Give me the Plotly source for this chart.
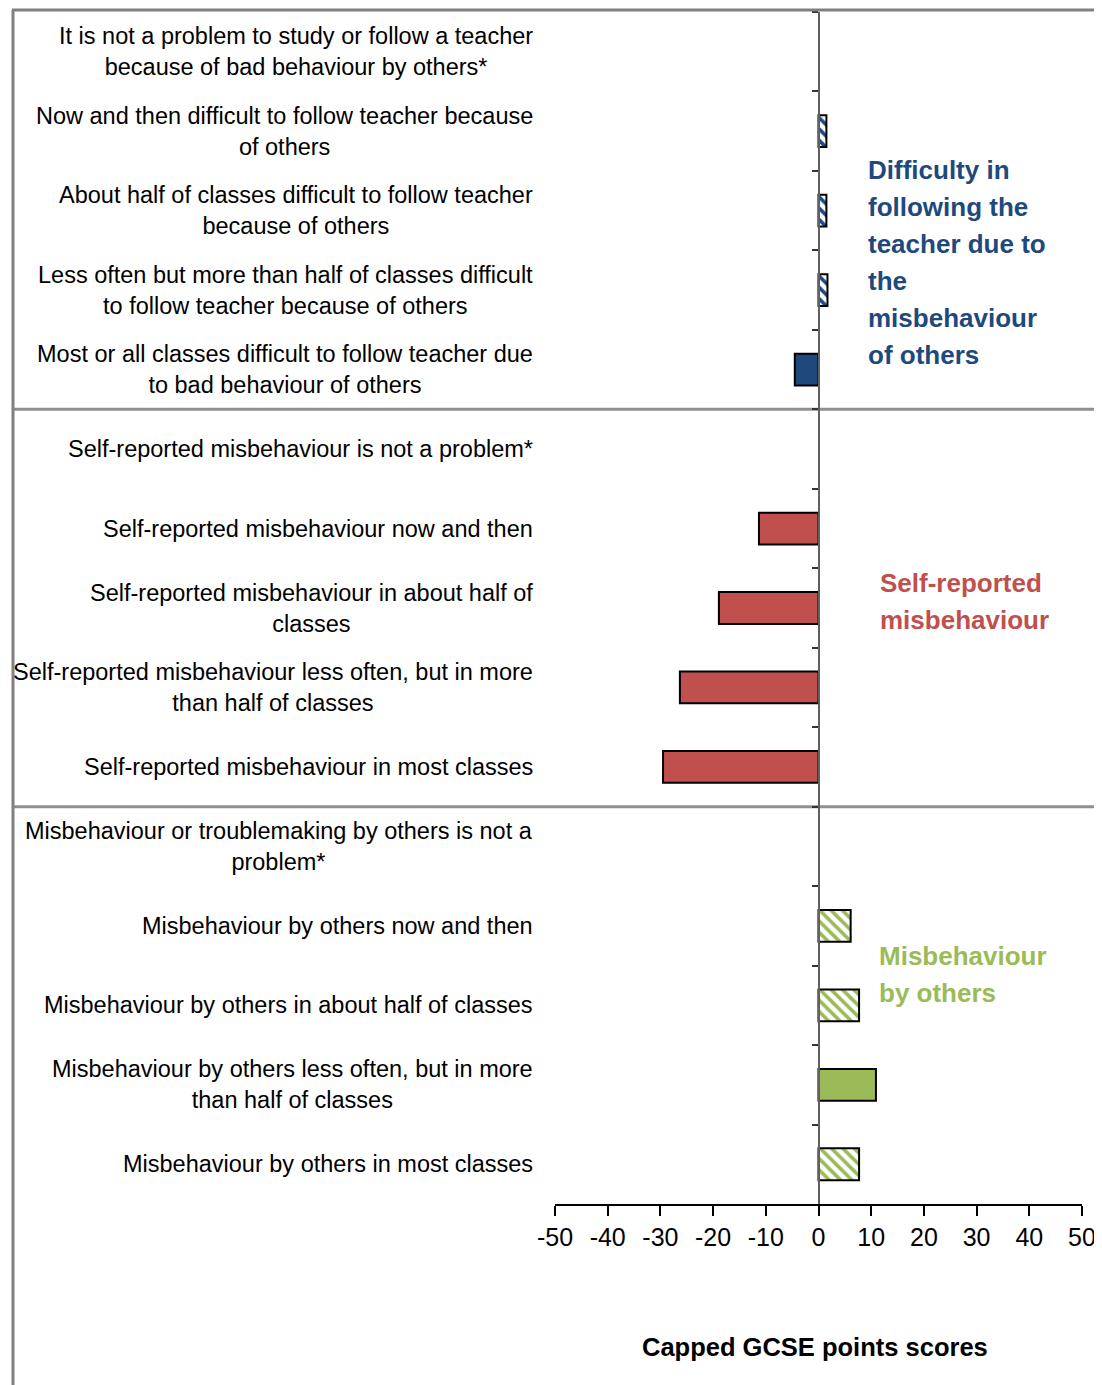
import plotly.graph_objects as go

# ---- data ----
categories = [
    "It is not a problem to study or follow a teacher<br>because of bad behaviour by others*",
    "Now and then difficult to follow teacher because<br>of others",
    "About half of classes difficult to follow teacher<br>because of others",
    "Less often but more than half of classes difficult<br>to follow teacher because of others",
    "Most or all classes difficult to follow teacher due<br>to bad behaviour of others",
    "Self-reported misbehaviour is not a problem*",
    "Self-reported misbehaviour now and then",
    "Self-reported misbehaviour in about half of<br>classes",
    "Self-reported misbehaviour less often, but in more<br>than half of classes",
    "Self-reported misbehaviour in most classes",
    "Misbehaviour or troublemaking by others is not a<br>problem*",
    "Misbehaviour by others now and then",
    "Misbehaviour by others in about half of classes",
    "Misbehaviour by others less often, but in more<br>than half of classes",
    "Misbehaviour by others in most classes",
]
values = [None, 1.5, 1.5, 1.7, -4.5,
          None, -11.3, -18.9, -26.3, -29.5,
          None, 6.1, 7.7, 10.9, 7.7]
group = ["diff"] * 5 + ["self"] * 5 + ["others"] * 5
significant = [False, False, False, False, True,
               False, True, True, True, True,
               False, False, False, True, False]

group_names = ["diff", "self", "others"]
group_lines = {
    "diff": ["Difficulty in", "following the", "teacher due to", "the",
             "misbehaviour", "of others"],
    "self": ["Self-reported", "misbehaviour"],
    "others": ["Misbehaviour", "by others"],
}
x_ticks = [-50, -40, -30, -20, -10, 0, 10, 20, 30, 40, 50]
x_title = "Capped GCSE points scores"

# ---- styles ----
colors = {"diff": "#1F497D", "self": "#C0504D", "others": "#9BBB59"}
FONT = "Liberation Sans, Arial, sans-serif"

W, H = 1102, 1385
OFF = 8  # page body margin offset
L, T = 555 - OFF, 12 - OFF
pw, ph = 527, 1192
R, B = W - L - pw, H - T - ph

fig = go.Figure()
for g in group_names:
    for sig in (True, False):
        xs = [v if (gg == g and s == sig) else None
              for v, gg, s in zip(values, group, significant)]
        if all(x is None for x in xs):
            continue
        if sig:
            marker = dict(color=colors[g], line=dict(color="black", width=2))
        else:
            marker = dict(color="white", line=dict(color="black", width=2),
                          pattern=dict(shape="\\", fgcolor=colors[g], bgcolor="white",
                                       size=8, solidity=0.45, fillmode="replace"))
        fig.add_trace(go.Bar(y=categories, x=xs, orientation="h", width=0.4,
                             marker=marker, showlegend=False, hoverinfo="skip"))

fig.update_layout(
    width=W, height=H, margin=dict(l=L, r=R, t=T, b=B),
    paper_bgcolor="white", plot_bgcolor="white", barmode="overlay",
    font=dict(family=FONT, color="black"),
    xaxis=dict(range=[-50, 50], tickvals=x_ticks, ticktext=[str(v) for v in x_ticks],
               showgrid=False, zeroline=False, showline=True, linecolor="black",
               linewidth=2, ticks="outside", ticklen=10, tickwidth=2, tickcolor="black",
               tickfont=dict(size=25, family=FONT, color="black"), automargin=False),
    yaxis=dict(type="category", autorange="reversed", categoryorder="array",
               categoryarray=categories, showticklabels=False, showgrid=False,
               anchor="free", position=0.5, showline=True, linecolor="#606060",
               linewidth=1.5, ticks="outside", tickson="boundaries", ticklen=6,
               tickcolor="#333333", tickwidth=1.5, automargin=False),
)


def px_x(p):
    return (p - OFF - L) / pw


def px_y(p):
    return 1 - (p - OFF - T) / ph


# category labels (centred blocks, right-anchored)
for c in categories:
    fig.add_annotation(x=0, xref="paper", xanchor="right", xshift=-20, y=c, yref="y",
                       text=c, showarrow=False, align="center",
                       font=dict(size=23.5, family=FONT, color="black"))

# group labels, one line per annotation for Excel-like line spacing
group_pos = {"diff": (9.0, 2.65), "self": (11.3, 6.92), "others": (11.1, 11.61)}
LINE_SP = 37
for g, (gx, gy) in group_pos.items():
    lines = group_lines[g]
    n = len(lines)
    for i, ln in enumerate(lines):
        fig.add_annotation(x=gx, y=gy, xref="x", yref="y", xanchor="left",
                           yanchor="middle", yshift=-(i - (n - 1) / 2) * LINE_SP,
                           text="<b>" + ln + "</b>", showarrow=False, align="left",
                           font=dict(size=26, family=FONT, color=colors[g]))

# axis title
fig.add_annotation(x=px_x(815), y=px_y(1347), xref="paper", yref="paper",
                   xanchor="center", yanchor="middle", showarrow=False,
                   text="<b>" + x_title + "</b>",
                   font=dict(size=25.5, family=FONT, color="black"))

# frame and separators
line_style = dict(color="#808080", width=3)
fig.add_shape(type="line", xref="paper", yref="paper", x0=px_x(12), x1=px_x(W + OFF),
              y0=px_y(10), y1=px_y(10), line=line_style)
fig.add_shape(type="line", xref="paper", yref="paper", x0=px_x(13), x1=px_x(13),
              y0=px_y(10), y1=px_y(H + OFF), line=line_style)
for b in [4.5, 9.5]:
    fig.add_shape(type="line", xref="paper", yref="y", x0=px_x(14), x1=px_x(W + OFF),
                  y0=b, y1=b, line=dict(color="#909090", width=3), layer="below")

fig.write_html("out.html")
